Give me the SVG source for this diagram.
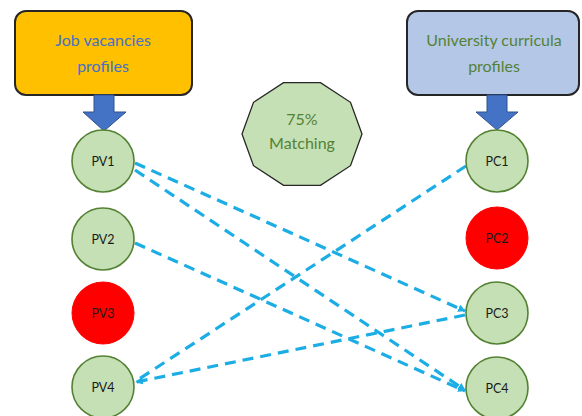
<svg xmlns="http://www.w3.org/2000/svg" width="582" height="416" viewBox="0 0 582 416">
<style>
.box{stroke:#262626;stroke-width:2}
.arrow{fill:#4472C4;stroke:#2F528F;stroke-width:1}
.node{fill:#C5E0B4;stroke:#548235;stroke-width:1.6}
.red{fill:#FF0000;stroke:#FF0000;stroke-width:1}
.lbl{font-family:Lato,"Open Sans",sans-serif;font-size:12.5px;fill:#1a1a1a;text-anchor:middle}
.big{font-family:Lato,"Open Sans",sans-serif;font-size:16px;text-anchor:middle}
.con{fill:none;stroke:#1CADE4;stroke-width:3.2;stroke-dasharray:11 7}
</style>
<defs>
<marker id="ah" viewBox="0 0 10 10" refX="9" refY="5" markerWidth="2.4" markerHeight="2.4" orient="auto">
<path d="M0,0 L10,5 L0,10 z" fill="#1CADE4"/>
</marker>
</defs>
<rect width="582" height="416" fill="#fff"/>
<g id="job-vacancies">
<rect class="box" x="15" y="11" width="177" height="84" rx="11" fill="#FFC000"/>
<text class="big" x="103" y="46" fill="#4472C4">Job vacancies</text>
<text class="big" x="103" y="72" fill="#4472C4">profiles</text>
<path class="arrow" d="M94,95 H114 V112 H126 L104,131 L83,112 H94 Z"/>
</g>
<g id="university-curricula">
<rect class="box" x="407" y="11" width="172" height="84" rx="11" fill="#B4C7E7"/>
<text class="big" x="494" y="46" fill="#548235">University curricula</text>
<text class="big" x="494" y="72" fill="#548235">profiles</text>
<path class="arrow" d="M487,95 H507 V112 H518 L497,130 L476,112 H487 Z"/>
</g>
<g id="matching">
<polygon points="362,134 350.5,102.3 320.5,82.6 283.5,82.6 253.5,102.3 242,134 253.5,165.7 283.5,185.4 320.5,185.4 350.5,165.7" fill="#C5E0B4" stroke="#262626" stroke-width="1.3"/>
<text class="big" x="302" y="125" fill="#548235">75%</text>
<text class="big" x="302" y="149" fill="#548235">Matching</text>
</g>
<g id="connectors">
<line class="con" x1="135" y1="163" x2="465" y2="311" marker-end="url(#ah)"/>
<line class="con" x1="135" y1="170" x2="465" y2="390" marker-end="url(#ah)"/>
<line class="con" x1="135" y1="243" x2="465" y2="391" marker-end="url(#ah)"/>
<line class="con" x1="466" y1="166" x2="136" y2="381"/>
<line class="con" x1="465" y1="315" x2="136" y2="382" marker-end="url(#ah)"/>
</g>
<g id="PV1"><circle class="node" cx="103" cy="161" r="31"/><text class="lbl" x="103" y="165.5">PV1</text></g>
<g id="PV2"><circle class="node" cx="103" cy="239" r="31"/><text class="lbl" x="103" y="243.5">PV2</text></g>
<g id="PV3"><circle class="red" cx="103" cy="313" r="31"/><text class="lbl" x="103" y="317.5">PV3</text></g>
<g id="PV4"><circle class="node" cx="103" cy="387" r="31"/><text class="lbl" x="103" y="391.5">PV4</text></g>
<g id="PC1"><circle class="node" cx="497" cy="161" r="31"/><text class="lbl" x="497" y="165.5">PC1</text></g>
<g id="PC2"><circle class="red" cx="497" cy="238" r="31"/><text class="lbl" x="497" y="242.5">PC2</text></g>
<g id="PC3"><circle class="node" cx="497" cy="313" r="31"/><text class="lbl" x="497" y="317.5">PC3</text></g>
<g id="PC4"><circle class="node" cx="497" cy="388" r="31"/><text class="lbl" x="497" y="392.5">PC4</text></g>
</svg>
